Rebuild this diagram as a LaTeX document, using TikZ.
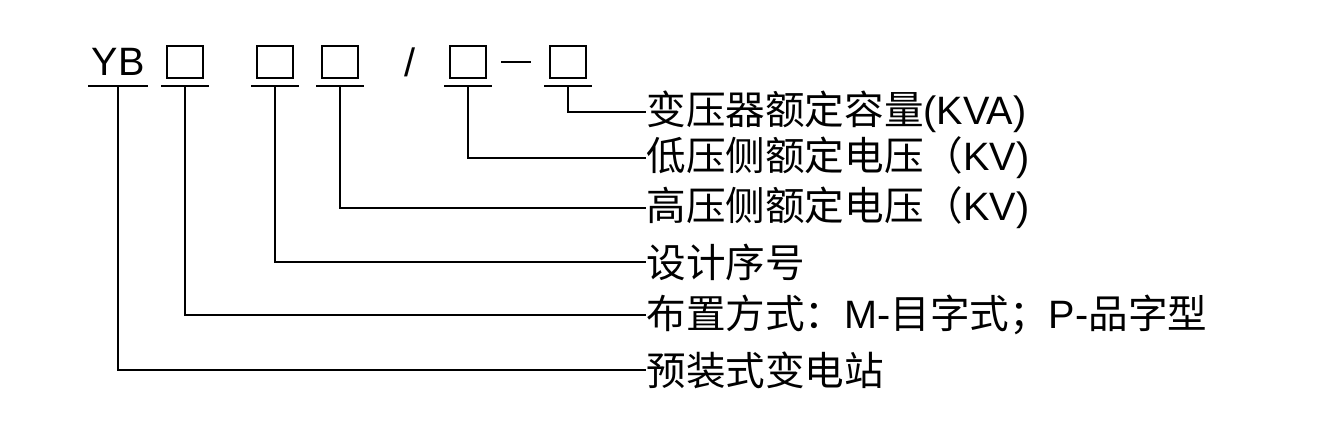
\documentclass[tikz,border=0pt]{standalone}
\usepackage{fontspec}
\setmainfont{Liberation Sans}
\newfontfamily\cjk{Noto Sans CJK SC}
\newcommand{\zh}[1]{{\cjk #1}}
\begin{document}
\begin{tikzpicture}[x=0.5pt,y=-0.5pt,
    cell/.style={draw,line width=1.2pt,minimum width=18pt,minimum height=16pt,inner sep=0pt},
    lbl/.style={anchor=west,inner sep=0pt,font=\fontsize{19.8pt}{20pt}\selectfont},
    sym/.style={inner sep=0pt,font=\fontsize{19.8pt}{20pt}\selectfont},
    lead/.style={line width=1.2pt}]
    \useasboundingbox (0,0) rectangle (1344,446);
    % code symbols
    \node[sym] (yb) at (118,62) {YB};
    \node[cell] (b1) at (185,62) {};
    \node[cell] (b2) at (275,62) {};
    \node[cell] (b3) at (340,62) {};
    \node[sym] (sl) at (410,62) {/};
    \node[cell] (b4) at (468,62) {};
    \node[sym] (dh) at (516,62) {\rule{15pt}{1.2pt}};
    \node[cell] (b5) at (568,62) {};
    \coordinate (base) at (0,86);
    % labels
    \node[lbl] (t5) at (646,112) {\zh{变压器额定容量}(KVA)};
    \node[lbl] (t4) at (646,158) {\zh{低压侧额定电压（}KV)};
    \node[lbl] (t3) at (646,208) {\zh{高压侧额定电压（}KV)};
    \node[lbl] (t2) at (646,262) {\zh{设计序号}};
    \node[lbl] (t1) at (646,315) {\zh{布置方式：}M-\zh{目字式；}P-\zh{品字型}};
    \node[lbl] (t0) at (646,370) {\zh{预装式变电站}};
    % underlines and leaders
    \foreach \n/\t/\w in {yb/t0/15,b1/t1/12,b2/t2/12,b3/t3/12,b4/t4/12,b5/t5/12}{
        \coordinate (u\n) at (\n.center |- base);
        \draw[lead] ([xshift=-\w pt]u\n) -- ([xshift=\w pt]u\n);
        \draw[lead] (u\n) |- (\t.west);
    }
\end{tikzpicture}
\end{document}
